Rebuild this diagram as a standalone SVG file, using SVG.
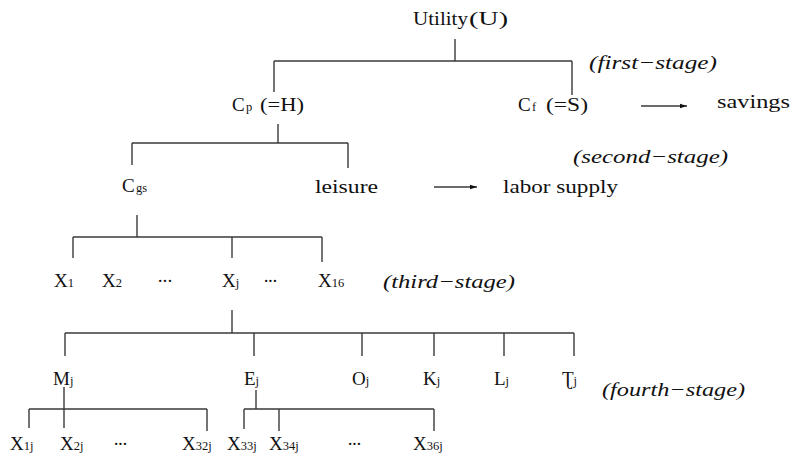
<svg xmlns="http://www.w3.org/2000/svg" width="793" height="461" viewBox="0 0 793 461">
<defs>
<style>
text{font-family:"Liberation Serif","DejaVu Serif",serif;font-size:19px;fill:#111}
.sub{font-size:12.5px}
.it{font-style:italic}
.ln{stroke:#3a3a3a;stroke-width:1.4;fill:none}
</style>
<marker id="ah" markerWidth="8" markerHeight="6" refX="7" refY="3" orient="auto" markerUnits="userSpaceOnUse">
<path d="M0,0.8 L7,3 L0,5.2 Z" fill="#111"/>
</marker>
</defs>
<rect width="793" height="461" fill="#fff"/>
<g id="connectors">
<path class="ln" d="M455,39V61M274,61H572M274,61V92M572,61V95"/>
<path class="ln" d="M278,124V143M132,143H348M132,143V165M348,143V168"/>
<path class="ln" d="M137,215V237M73,237H322M73,237V258M232,237V258M322,237V262"/>
<path class="ln" d="M232,310V333M65,333H574M65,333V356M254,333V356M362,333V356M434,333V356M504,333V356M574,333V356"/>
<path class="ln" d="M64,387V428M29,409H207M29,409V428M207,409V431"/>
<path class="ln" d="M256,390V409M244,409H434M244,409V429M279,409V431M434,409V431"/>
<path class="ln" d="M641,106H687" marker-end="url(#ah)" stroke-width="1.2"/>
<path class="ln" d="M434,187H477" marker-end="url(#ah)" stroke-width="1.2"/>
</g>
<g id="utility"><text x="413" y="25" textLength="55" lengthAdjust="spacingAndGlyphs">Utility</text><text x="469" y="25" textLength="39" lengthAdjust="spacingAndGlyphs">(U)</text></g>
<g id="stage1"><text class="it" x="589" y="69" textLength="128" lengthAdjust="spacingAndGlyphs">(first−stage)</text></g>
<g id="cp"><text x="232" y="111">C</text><text class="sub" x="246" y="111">p</text><text x="260" y="111" textLength="44" lengthAdjust="spacingAndGlyphs">(=H)</text></g>
<g id="cf"><text x="518" y="111">C</text><text class="sub" x="532" y="111">f</text><text x="546" y="111" textLength="42" lengthAdjust="spacingAndGlyphs">(=S)</text></g>
<g id="savings"><text x="717" y="108" textLength="73" lengthAdjust="spacingAndGlyphs">savings</text></g>
<g id="stage2"><text class="it" x="573" y="163" textLength="155" lengthAdjust="spacingAndGlyphs">(second−stage)</text></g>
<g id="cgs"><text x="122" y="192">C</text><text class="sub" x="136" y="192">gs</text></g>
<g id="leisure"><text x="315" y="193" textLength="63" lengthAdjust="spacingAndGlyphs">leisure</text></g>
<g id="labor"><text x="503" y="193" textLength="115" lengthAdjust="spacingAndGlyphs">labor supply</text></g>
<g id="x1"><text x="54" y="287">X<tspan class="sub">1</tspan></text></g>
<g id="x2"><text x="102" y="287">X<tspan class="sub">2</tspan></text></g>
<g id="dots1"><text x="157" y="287" textLength="16">···</text></g>
<g id="xj"><text x="222" y="287">X<tspan class="sub">j</tspan></text></g>
<g id="dots2"><text x="263" y="287" textLength="15">···</text></g>
<g id="x16"><text x="318" y="287">X<tspan class="sub">16</tspan></text></g>
<g id="stage3"><text class="it" x="383" y="288" textLength="132" lengthAdjust="spacingAndGlyphs">(third−stage)</text></g>
<g id="mj"><text x="53" y="385">M<tspan class="sub">j</tspan></text></g>
<g id="ej"><text x="244" y="385">E<tspan class="sub">j</tspan></text></g>
<g id="oj"><text x="352" y="385">O<tspan class="sub">j</tspan></text></g>
<g id="kj"><text x="423" y="385">K<tspan class="sub">j</tspan></text></g>
<g id="lj"><text x="494" y="385">L<tspan class="sub">j</tspan></text></g>
<g id="tj"><text x="562" y="385">Ʈ<tspan class="sub">j</tspan></text></g>
<g id="stage4"><text class="it" x="602" y="396" textLength="143" lengthAdjust="spacingAndGlyphs">(fourth−stage)</text></g>
<g id="x1j"><text x="10" y="450">X<tspan class="sub">1j</tspan></text></g>
<g id="x2j"><text x="60" y="450">X<tspan class="sub">2j</tspan></text></g>
<g id="dots3"><text x="113" y="450" textLength="15">···</text></g>
<g id="x32j"><text x="182" y="450">X<tspan class="sub">32j</tspan></text></g>
<g id="x33j"><text x="227" y="450">X<tspan class="sub">33j</tspan></text></g>
<g id="x34j"><text x="269" y="450">X<tspan class="sub">34j</tspan></text></g>
<g id="dots4"><text x="347" y="450" textLength="15">···</text></g>
<g id="x36j"><text x="413" y="450">X<tspan class="sub">36j</tspan></text></g>
</svg>
